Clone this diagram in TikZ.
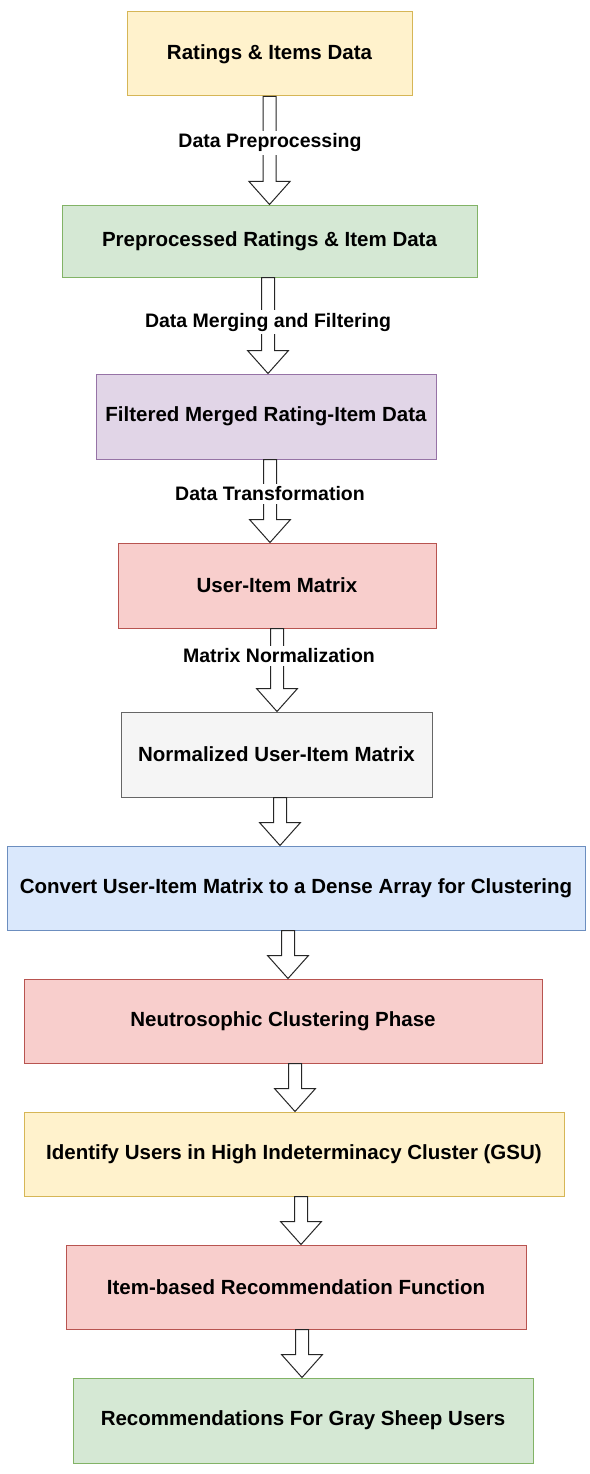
\documentclass[tikz,border=0pt]{standalone}
\usepackage{fontspec}
\setmainfont{Liberation Sans}
\usepackage{tikz}
\usetikzlibrary{calc}

% draw.io palette
\definecolor{ylwfill}{HTML}{FFF2CC}\definecolor{ylwline}{HTML}{D6B656}
\definecolor{grnfill}{HTML}{D5E8D4}\definecolor{grnline}{HTML}{82B366}
\definecolor{prpfill}{HTML}{E1D5E7}\definecolor{prpline}{HTML}{9673A6}
\definecolor{redfill}{HTML}{F8CECC}\definecolor{redline}{HTML}{B85450}
\definecolor{gryfill}{HTML}{F5F5F5}\definecolor{gryline}{HTML}{666666}
\definecolor{blufill}{HTML}{DAE8FC}\definecolor{bluline}{HTML}{6C8EBF}

\tikzset{
  stagebox/.style n args={4}{draw=#1line, fill=#1fill, line width=1pt,
    minimum width=#2, minimum height=#3, inner sep=0pt,
    font=\fontsize{20.5}{24}\selectfont\bfseries, text=black, #4},
  flexarrow/.style={draw=black!85, fill=white, line width=1pt, line join=miter,
    to path={let \p1=(\tikztostart), \p2=(\tikztotarget) in
      (\x1-6.5pt,\y1) -- (\x1+6.5pt,\y1) -- (\x1+6.5pt,\y2+23pt)
      -- (\x1+20.5pt,\y2+23pt) -- (\x1,\y2) -- (\x1-20.5pt,\y2+23pt)
      -- (\x1-6.5pt,\y2+23pt) -- cycle}},
  steplabel/.style={fill=white, inner sep=2.5pt, text=black,
    font=\fontsize{19.5}{23}\selectfont\bfseries}
}

\begin{document}
\begin{tikzpicture}[x=1pt, y=-1pt]
    \useasboundingbox (0,0) rectangle (589,1474);

    % stages, top to bottom
    \node[stagebox={ylw}{285}{84}{}] (raw) at (269.5,54) {Ratings \& Items Data};
    \node[stagebox={grn}{415}{72}{}] (prep) at (269.5,241) {Preprocessed Ratings \& Item Data};
    \node[stagebox={prp}{340}{85}{}] (merged) at (266,416.5) {Filtered Merged Rating-Item Data};
    \node[stagebox={red}{318}{85}{}] (uim) at (277,585.5) {User-Item Matrix};
    \node[stagebox={gry}{311}{85}{}] (norm) at (276.5,754.5) {Normalized User-Item Matrix};
    \node[stagebox={blu}{578}{84}{}] (dense) at (296,888) {Convert User-Item Matrix to a Dense Array for Clustering};
    \node[stagebox={red}{518}{84}{}] (clust) at (283,1021) {Neutrosophic Clustering Phase};
    \node[stagebox={ylw}{540}{84}{}] (gsu) at (294,1154) {Identify Users in High Indeterminacy Cluster (GSU)};
    \node[stagebox={red}{460}{84}{}] (itembased) at (296,1287) {Item-based Recommendation Function};
    \node[stagebox={grn}{460}{85}{}] (recs) at (303,1420.5) {Recommendations For Gray Sheep Users};

    % hollow arrows between stages
    \foreach \from/\to/\ax in {raw/prep/269.5, prep/merged/268, merged/uim/270,
        uim/norm/277, norm/dense/280, dense/clust/288, clust/gsu/295,
        gsu/itembased/301, itembased/recs/302} {
        \draw[flexarrow] (\ax,0 |- \from.south) to (\ax,0 |- \to.north);
    }

    % arrow labels
    \node[steplabel] (lblprep) at (270,143) {Data Preprocessing};
    \node[steplabel] (lblmerge) at (268,322) {Data Merging and Filtering};
    \node[steplabel] (lbltrans) at (270,494) {Data Transformation};
    \node[steplabel] (lblnorm) at (279,656) {Matrix Normalization};
\end{tikzpicture}
\end{document}
